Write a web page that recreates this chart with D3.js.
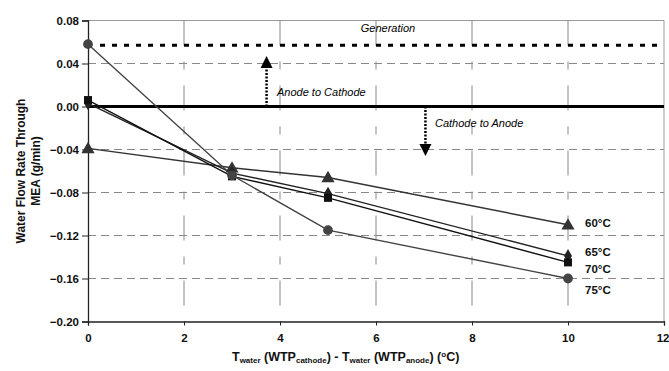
<!DOCTYPE html>
<html><head><meta charset="utf-8">
<script src="https://cdn.jsdelivr.net/npm/d3@7"></script>
<style>body{margin:0;background:#fff;} svg{display:block;font-family:Arial,"Liberation Sans",sans-serif;}</style>
</head><body>
<svg id="c" width="669" height="371"></svg>
<script>
const xValues = [0, 3, 5, 10];
const series60 = [-0.039, -0.057, -0.066, -0.110];
const series65 = [0.003, -0.062, -0.081, -0.139];
const series70 = [0.006, -0.065, -0.085, -0.145];
const series75 = [0.058, -0.064, -0.115, -0.160];
const seriesNames = ["60°C", "65°C", "70°C", "75°C"];
const seriesMarkers = ["triangle", "diamond", "square", "circle"];
const yTicks = [0.08, 0.04, 0.00, -0.04, -0.08, -0.12, -0.16, -0.20];
const xTicks = [0, 2, 4, 6, 8, 10, 12];
const generationLevel = 0.057;
const arrowUp = {x: 3.72, from: 0, to: 0.047};
const arrowDown = {x: 7.03, from: 0, to: -0.046};

const svg = d3.select("#c");
const L = 88, R = 664, T = 20.5, B = 321.5;
const x = d3.scaleLinear().domain([0, 12]).range([L, R]);
const y = d3.scaleLinear().domain([-0.20, 0.08]).range([B, T]);

// horizontal dashed grid
svg.append("g").selectAll("line").data(yTicks.filter(v => v !== 0 && v !== 0.08 && v !== -0.20))
  .join("line").attr("x1", L).attr("x2", R).attr("y1", d => y(d)).attr("y2", d => y(d))
  .attr("stroke", "#888").attr("stroke-width", 1).attr("stroke-dasharray", "8,5");
// vertical dashed grid
svg.append("g").selectAll("line").data(xTicks.filter(v => v > 0 && v < 12))
  .join("line").attr("x1", d => x(d)).attr("x2", d => x(d)).attr("y1", T).attr("y2", B)
  .attr("stroke", "#888").attr("stroke-width", 1).attr("stroke-dasharray", "25,16,8,16");
// frame top/right
svg.append("path").attr("d", `M${L},${T}H${R}V${B}`).attr("fill", "none").attr("stroke", "#999").attr("stroke-width", 1);

// axes
const yAxis = d3.axisLeft(y).tickValues(yTicks).tickFormat(d3.format(".2f")).tickSize(6).tickPadding(3);
const gy = svg.append("g").attr("transform", `translate(${L},0)`).call(yAxis);
const xAxis = d3.axisBottom(x).tickValues(xTicks).tickFormat(d3.format("d")).tickSize(4).tickPadding(8);
const gx = svg.append("g").attr("transform", `translate(0,${B})`).call(xAxis);
[gy, gx].forEach(g => {
  g.select(".domain").attr("stroke", "#222").attr("stroke-width", 1.3);
  g.selectAll(".tick line").attr("stroke", "#222");
  g.selectAll("text").attr("font-size", 11.5).attr("font-weight", "bold").attr("fill", "#111").attr("font-family", "Arial, 'Liberation Sans', sans-serif");
});
gx.selectAll(".tick").filter(d => d === 12).select("text").attr("text-anchor", "end").attr("x", 5);

// zero line
svg.append("line").attr("x1", L).attr("x2", R).attr("y1", y(0)).attr("y2", y(0))
  .attr("stroke", "#000").attr("stroke-width", 3);
// generation line
svg.append("line").attr("x1", L + 12).attr("x2", R).attr("y1", y(generationLevel)).attr("y2", y(generationLevel))
  .attr("stroke", "#000").attr("stroke-width", 3).attr("stroke-dasharray", "5,7");
svg.append("text").attr("x", 388).attr("y", 32).attr("text-anchor", "middle").attr("font-size", 11)
  .attr("font-style", "italic").text("Generation");

// arrows
function arrow(a) {
  const dir = a.to > a.from ? -1 : 1;
  const tip = y(a.to), head = 12;
  svg.append("line").attr("x1", x(a.x)).attr("x2", x(a.x)).attr("y1", y(a.from)).attr("y2", tip - dir * head)
    .attr("stroke", "#000").attr("stroke-width", 2.5).attr("stroke-dasharray", "2,1.5");
  svg.append("path").attr("d", `M${x(a.x)},${tip}L${x(a.x) - 6},${tip - dir * head}L${x(a.x) + 6},${tip - dir * head}Z`).attr("fill", "#000");
}
arrow(arrowUp); arrow(arrowDown);
svg.append("text").attr("x", 277).attr("y", 96).attr("font-size", 11).attr("font-style", "italic").text("Anode to Cathode");
svg.append("text").attr("x", 435).attr("y", 127).attr("font-size", 11).attr("font-style", "italic").text("Cathode to Anode");

// series
const allSeries = [series60, series65, series70, series75];
const colors = ["#333", "#222", "#111", "#444"];
const line = d3.line().x((d, i) => x(xValues[i])).y(d => y(d));
allSeries.forEach((s, k) => {
  svg.append("path").datum(s).attr("d", line).attr("fill", "none").attr("stroke", colors[k]).attr("stroke-width", 1.4);
});
const sym = {triangle: d3.symbolTriangle, diamond: d3.symbolDiamond, square: d3.symbolSquare, circle: d3.symbolCircle};
const sizes = {triangle: 75, diamond: 55, square: 64, circle: 75};
allSeries.forEach((s, k) => {
  const m = seriesMarkers[k];
  svg.append("g").selectAll("path").data(s).join("path")
    .attr("transform", (d, i) => `translate(${x(xValues[i])},${y(d) + (m === "triangle" ? 1 : 0)})`)
    .attr("d", d3.symbol(sym[m], sizes[m])).attr("fill", colors[k]);
});

// series labels
const labelY = [223, 252, 268.5, 290];
seriesNames.forEach((n, k) => {
  svg.append("text").attr("x", 585).attr("y", labelY[k]).attr("dy", "0.35em").attr("font-size", 11.5)
    .attr("font-weight", "bold").attr("fill", "#111").text(n);
});

// y axis title
const yt = svg.append("text").attr("transform", `translate(0,171) rotate(-90)`).attr("text-anchor", "middle")
  .attr("font-size", 12).attr("font-weight", "bold").attr("fill", "#111");
yt.append("tspan").attr("x", 0).attr("y", 25).text("Water Flow Rate Through");
yt.append("tspan").attr("x", 0).attr("y", 40).text("MEA  (g/min)");

// x axis title
const xt = svg.append("text").attr("x", 232).attr("y", 361).attr("font-size", 12.5).attr("font-weight", "bold").attr("fill", "#111");
xt.append("tspan").text("T");
xt.append("tspan").attr("font-size", 8).attr("dy", 2).text("water");
xt.append("tspan").attr("dy", -2).text(" (WTP");
xt.append("tspan").attr("font-size", 8).attr("dy", 2).text("cathode");
xt.append("tspan").attr("dy", -2).text(") - T");
xt.append("tspan").attr("font-size", 8).attr("dy", 2).text("water");
xt.append("tspan").attr("dy", -2).text(" (WTP");
xt.append("tspan").attr("font-size", 8).attr("dy", 2).text("anode");
xt.append("tspan").attr("dy", -2).text(") (");
xt.append("tspan").attr("font-size", 8).attr("dy", -4).text("o");
xt.append("tspan").attr("dy", 4).text("C)");
</script>
</body></html>
